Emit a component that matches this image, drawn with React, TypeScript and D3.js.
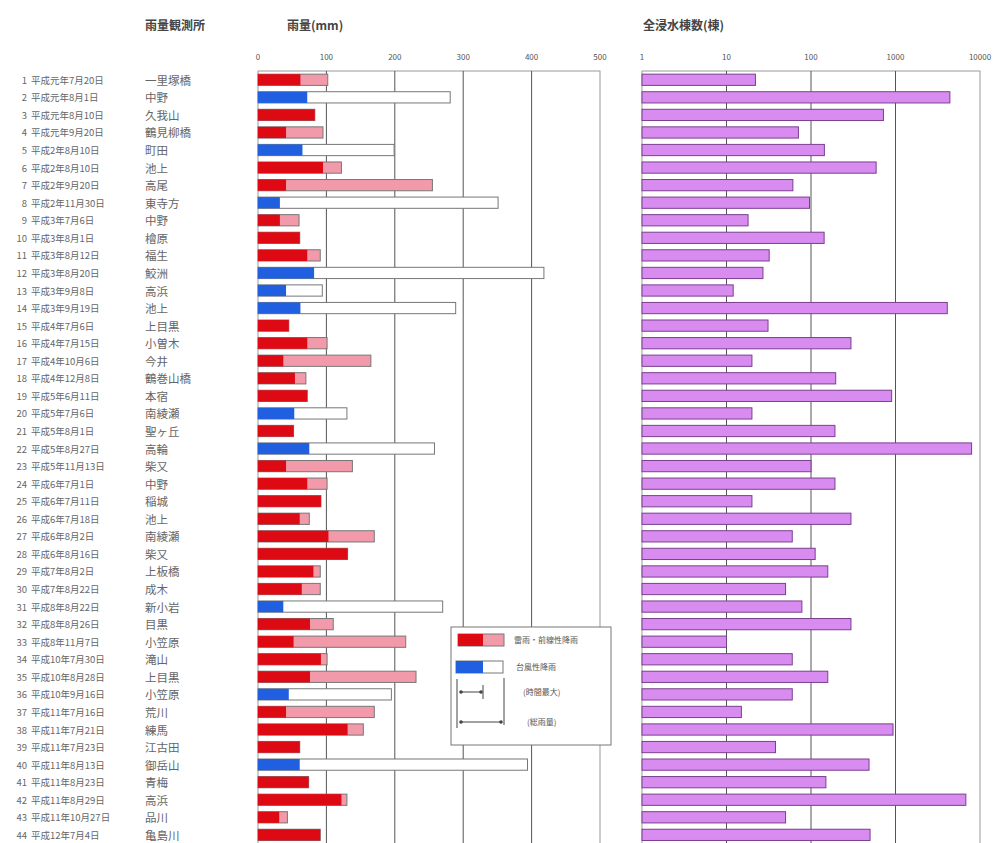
import React from "react";
import * as d3 from "d3";

const nums = ["1","2","3","4","5","6","7","8","9","10","11","12","13","14","15","16","17","18","19","20","21","22","23","24","25","26","27","28","29","30","31","32","33","34","35","36","37","38","39","40","41","42","43","44"];
const dates = [
  "平成元年7月20日","平成元年8月1日","平成元年8月10日","平成元年9月20日","平成2年8月10日","平成2年8月10日",
  "平成2年9月20日","平成2年11月30日","平成3年7月6日","平成3年8月1日","平成3年8月12日","平成3年8月20日",
  "平成3年9月8日","平成3年9月19日","平成4年7月6日","平成4年7月15日","平成4年10月6日","平成4年12月8日",
  "平成5年6月11日","平成5年7月6日","平成5年8月1日","平成5年8月27日","平成5年11月13日","平成6年7月1日",
  "平成6年7月11日","平成6年7月18日","平成6年8月2日","平成6年8月16日","平成7年8月2日","平成7年8月22日",
  "平成8年8月22日","平成8年8月26日","平成8年11月7日","平成10年7月30日","平成10年8月28日","平成10年9月16日",
  "平成11年7月16日","平成11年7月21日","平成11年7月23日","平成11年8月13日","平成11年8月23日","平成11年8月29日",
  "平成11年10月27日","平成12年7月4日"
];
const stations = [
  "一里塚橋","中野","久我山","鶴見柳橋","町田","池上","高尾","東寺方","中野","檜原","福生","鮫洲",
  "高浜","池上","上目黒","小曽木","今井","鶴巻山橋","本宿","南綾瀬","聖ヶ丘","高輪","柴又","中野",
  "稲城","池上","南綾瀬","柴又","上板橋","成木","新小岩","目黒","小笠原","滝山","上目黒","小笠原",
  "荒川","練馬","江古田","御岳山","青梅","高浜","品川","亀島川"
];
// f = 雷雨・前線性, t = 台風性
const rainType = ["f","t","f","f","t","f","f","t","f","f","f","t","t","t","f","f","f","f","f","t","f","t",
  "f","f","f","f","f","f","f","f","t","f","f","f","f","t","f","f","f","t","f","f","f","f"];
const hourlyMax = [62,72,83,41,65,95,41,32,32,61,72,82,41,62,45,72,37,54,72,53,52,75,
  41,72,92,61,103,131,81,64,37,76,52,92,76,45,41,131,61,61,74,122,31,91];
const totalRain = [102,281,83,95,199,122,255,351,60,61,91,418,94,289,45,101,165,70,72,130,52,258,
  138,101,92,75,170,131,91,91,270,110,216,101,231,195,170,154,61,394,74,130,43,91];
const buildings = [22,4400,720,71,144,590,61,96,18,143,32,27,12,4100,31,297,20,196,900,20,192,7950,
  100,192,20,297,60,112,158,50,78,297,10,60,158,60,15,935,38,486,150,6800,50,500];
const rainTicks = [0,100,200,300,400,500];
const logTicks = [1,10,100,1000,10000];

const FONT = "'Noto Sans CJK JP', 'Noto Sans', sans-serif";

export default function App() {
  const W = 997, H = 843;
  const top = 71;
  const step = 17.56;
  const y = d3.scaleBand<string>().domain(nums).range([top, top + step * nums.length]).paddingInner(0.36).paddingOuter(0.18);
  const xr = d3.scaleLinear().domain([0, 500]).range([258, 600]);
  const xl = d3.scaleLog().domain([1, 10000]).range([642, 980]);
  const bh = y.bandwidth();
  const bottom = H + 20;
  const txt = "#666";

  return (
    <svg width={W} height={H} style={{ position: "absolute", left: 0, top: 0, background: "#fff" }} fontFamily={FONT}>
      <rect x={0} y={0} width={W} height={H} fill="#fff" />
      {/* titles */}
      <text x={145} y={30} fontSize={12} fontWeight="bold" fill="#444">雨量観測所</text>
      <text x={287} y={30} fontSize={12} fontWeight="bold" fill="#444">雨量(mm)</text>
      <text x={643} y={30} fontSize={12} fontWeight="bold" fill="#444">全浸水棟数(棟)</text>

      {/* rain panel */}
      {rainTicks.map(t => (
        <text key={"rt" + t} x={xr(t)} y={60} fontSize={8} fill="#555" textAnchor="middle">{t}</text>
      ))}
      <rect x={xr(0)} y={top} width={xr(500) - xr(0)} height={bottom - top} fill="none" stroke="#999" strokeWidth={1} />
      {rainTicks.slice(1, 5).map(t => (
        <line key={"rg" + t} x1={xr(t)} x2={xr(t)} y1={top} y2={bottom} stroke="#555" strokeWidth={1} />
      ))}

      {/* log panel */}
      {logTicks.map(t => (
        <text key={"lt" + t} x={xl(t)} y={60} fontSize={8} fill="#555" textAnchor="middle">{t}</text>
      ))}
      <rect x={xl(1)} y={top} width={xl(10000) - xl(1)} height={bottom - top} fill="none" stroke="#999" strokeWidth={1} />
      {logTicks.slice(1, 4).map(t => (
        <line key={"lg" + t} x1={xl(t)} x2={xl(t)} y1={top} y2={bottom} stroke="#555" strokeWidth={1} />
      ))}

      {nums.map((n, i) => {
        const yy = y(n)!;
        const cy = yy + bh / 2;
        const typhoon = rainType[i] === "t";
        const dark = typhoon ? "#1f5fe0" : "#dd0a14";
        const light = typhoon ? "#ffffff" : "#f29aaa";
        return (
          <g key={n}>
            <text x={27} y={cy + 4} fontSize={9.5} fill={txt} textAnchor="end">{n}</text>
            <text x={31} y={cy + 4} fontSize={9.5} fill={txt}>{dates[i]}</text>
            <text x={145} y={cy + 5} fontSize={11.5} fill={txt}>{stations[i]}</text>
            <rect x={xr(0)} y={yy} width={xr(totalRain[i]) - xr(0)} height={bh} fill={light} stroke="#777" strokeWidth={1} />
            <rect x={xr(0)} y={yy} width={xr(hourlyMax[i]) - xr(0)} height={bh} fill={dark} />
            <rect x={xl(1)} y={yy} width={xl(buildings[i]) - xl(1)} height={bh} fill="#d98cf0" stroke="#7a3f8f" strokeWidth={1} />
          </g>
        );
      })}

      {/* legend */}
      <g>
        <rect x={451} y={627} width={160} height={118} fill="#fff" stroke="#777" strokeWidth={1} />
        <rect x={458} y={634} width={46} height={12} fill="#f29aaa" stroke="#777" />
        <rect x={458} y={634} width={25} height={12} fill="#dd0a14" />
        <text x={514} y={643} fontSize={8} fill="#555">雷雨・前線性降雨</text>
        <rect x={456} y={661} width={47} height={12} fill="#fff" stroke="#777" />
        <rect x={456} y={661} width={27} height={12} fill="#1f5fe0" />
        <text x={516} y={670} fontSize={8} fill="#555">台風性降雨</text>
        <line x1={457} x2={457} y1={679} y2={728} stroke="#444" />
        <line x1={504} x2={504} y1={678} y2={725} stroke="#444" />
        <line x1={483} x2={483} y1={685} y2={699} stroke="#444" />
        <line x1={460} x2={482} y1={692} y2={692} stroke="#444" />
        <circle cx={461} cy={692} r={1.8} fill="#444" />
        <circle cx={481} cy={692} r={1.8} fill="#444" />
        <text x={523} y={695} fontSize={8} fill="#555">(時間最大)</text>
        <line x1={460} x2={502} y1={722} y2={722} stroke="#444" />
        <circle cx={461} cy={722} r={1.8} fill="#444" />
        <circle cx={501} cy={722} r={1.8} fill="#444" />
        <text x={527} y={725} fontSize={8} fill="#555">(総雨量)</text>
      </g>
    </svg>
  );
}
